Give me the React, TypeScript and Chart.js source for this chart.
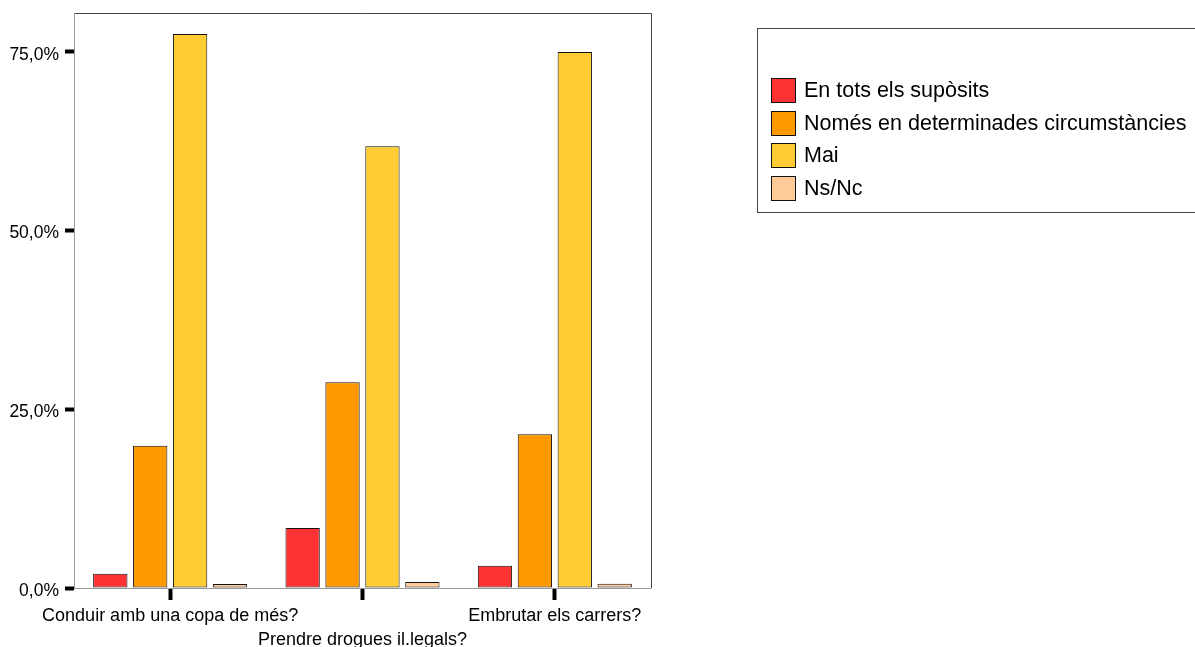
import React, { useEffect, useRef } from "react";
import { Chart, registerables } from "chart.js";

Chart.register(...registerables);

const categories: (string | string[])[] = [
  "Conduir amb una copa de més?",
  ["", "Prendre drogues il.legals?"],
  "Embrutar els carrers?",
];
const seriesLabels = [
  "En tots els supòsits",
  "Només en determinades circumstàncies",
  "Mai",
  "Ns/Nc",
];
const seriesColors = ["#FF3333", "#FF9900", "#FFCC33", "#FFCC99"];
const enTots = [2.0, 8.4, 3.1];
const nomes = [19.9, 28.8, 21.5];
const mai = [77.5, 61.8, 75.0];
const nsnc = [0.55, 0.85, 0.6];
const seriesValues = [enTots, nomes, mai, nsnc];
const yTicks = [0, 25, 50, 75];

const FONT = "'Liberation Sans', Arial, sans-serif";

const framePlugin = {
  id: "frame",
  afterDatasetsDraw(chart: any) {
    const { ctx, chartArea } = chart;
    const { left, right, top, bottom } = chartArea;
    ctx.save();
    ctx.lineWidth = 1;
    ctx.strokeStyle = "#444";
    ctx.beginPath();
    ctx.moveTo(left, top + 0.5);
    ctx.lineTo(right + 0.5, top + 0.5);
    ctx.lineTo(right + 0.5, bottom);
    ctx.stroke();
    ctx.strokeStyle = "#999";
    ctx.beginPath();
    ctx.moveTo(left + 0.5, top);
    ctx.lineTo(left + 0.5, bottom + 0.5);
    ctx.lineTo(right + 0.5, bottom + 0.5);
    ctx.stroke();
    ctx.restore();
  },
  afterDraw(chart: any) {
    const { ctx } = chart;
    ctx.save();
    ctx.lineWidth = 1;
    ctx.strokeStyle = "#444";
    ctx.strokeRect(757.5, 28.5, 600, 184);
    ctx.font = `21.5px ${FONT}`;
    ctx.textBaseline = "middle";
    ctx.textAlign = "left";
    chart.data.datasets.forEach((ds: any, i: number) => {
      const y = Math.round(78 + i * 32.7);
      ctx.fillStyle = ds.backgroundColor;
      ctx.fillRect(771, y, 24, 24);
      ctx.strokeStyle = "#111";
      ctx.strokeRect(771.5, y + 0.5, 24, 24);
      ctx.fillStyle = "#000";
      ctx.fillText(ds.label, 804, y + 13);
    });
    ctx.restore();
  },
};

export default function App() {
  const ref = useRef<HTMLCanvasElement>(null);
  useEffect(() => {
    if (!ref.current) return;
    const chart = new Chart(ref.current, {
      type: "bar",
      data: {
        labels: categories,
        datasets: seriesLabels.map((label, i) => ({
          label,
          data: seriesValues[i],
          backgroundColor: seriesColors[i],
          borderColor: "#111",
          borderWidth: 1,
          borderSkipped: false,
          categoryPercentage: 0.83,
          barPercentage: 0.86,
        })),
      },
      options: {
        responsive: false,
        animation: false,
        layout: { padding: { top: 13, right: 544, left: 0, bottom: 0 } },
        plugins: {
          legend: { display: false },
          tooltip: { enabled: false },
        },
        scales: {
          x: {
            afterFit: (scale: any) => {
              scale.height = 59;
              scale.paddingLeft = 0;
              scale.paddingRight = 0;
            },
            grid: {
              offset: false,
              drawOnChartArea: false,
              drawTicks: true,
              tickLength: 12,
              tickColor: "#000",
              tickWidth: 4,
            },
            border: { display: false },
            ticks: {
              color: "#000",
              font: { family: FONT, size: 18, lineHeight: 1.34 },
              padding: 4,
              maxRotation: 0,
              autoSkip: false,
            },
          },
          y: {
            min: 0,
            max: 80.45,
            afterFit: (scale: any) => {
              scale.width = 74;
              scale.paddingTop = 0;
              scale.paddingBottom = 0;
            },
            afterBuildTicks: (scale: any) => {
              scale.ticks = yTicks.map((v) => ({ value: v }));
            },
            grid: {
              drawOnChartArea: false,
              drawTicks: true,
              tickLength: 9,
              tickColor: "#000",
              tickWidth: 4,
            },
            border: { display: false },
            ticks: {
              color: "#000",
              font: { family: FONT, size: 17.5 },
              padding: 6,
              labelOffset: 3,
              callback: (v: any) => Number(v).toFixed(1).replace(".", ",") + "%",
            },
          },
        },
      },
      plugins: [framePlugin],
    });
    return () => chart.destroy();
  }, []);
  return (
    <div style={{ position: "absolute", left: 0, top: 0, width: 1195, height: 647 }}>
      <canvas ref={ref} width={1195} height={647} style={{ width: 1195, height: 647, display: "block" }} />
    </div>
  );
}
